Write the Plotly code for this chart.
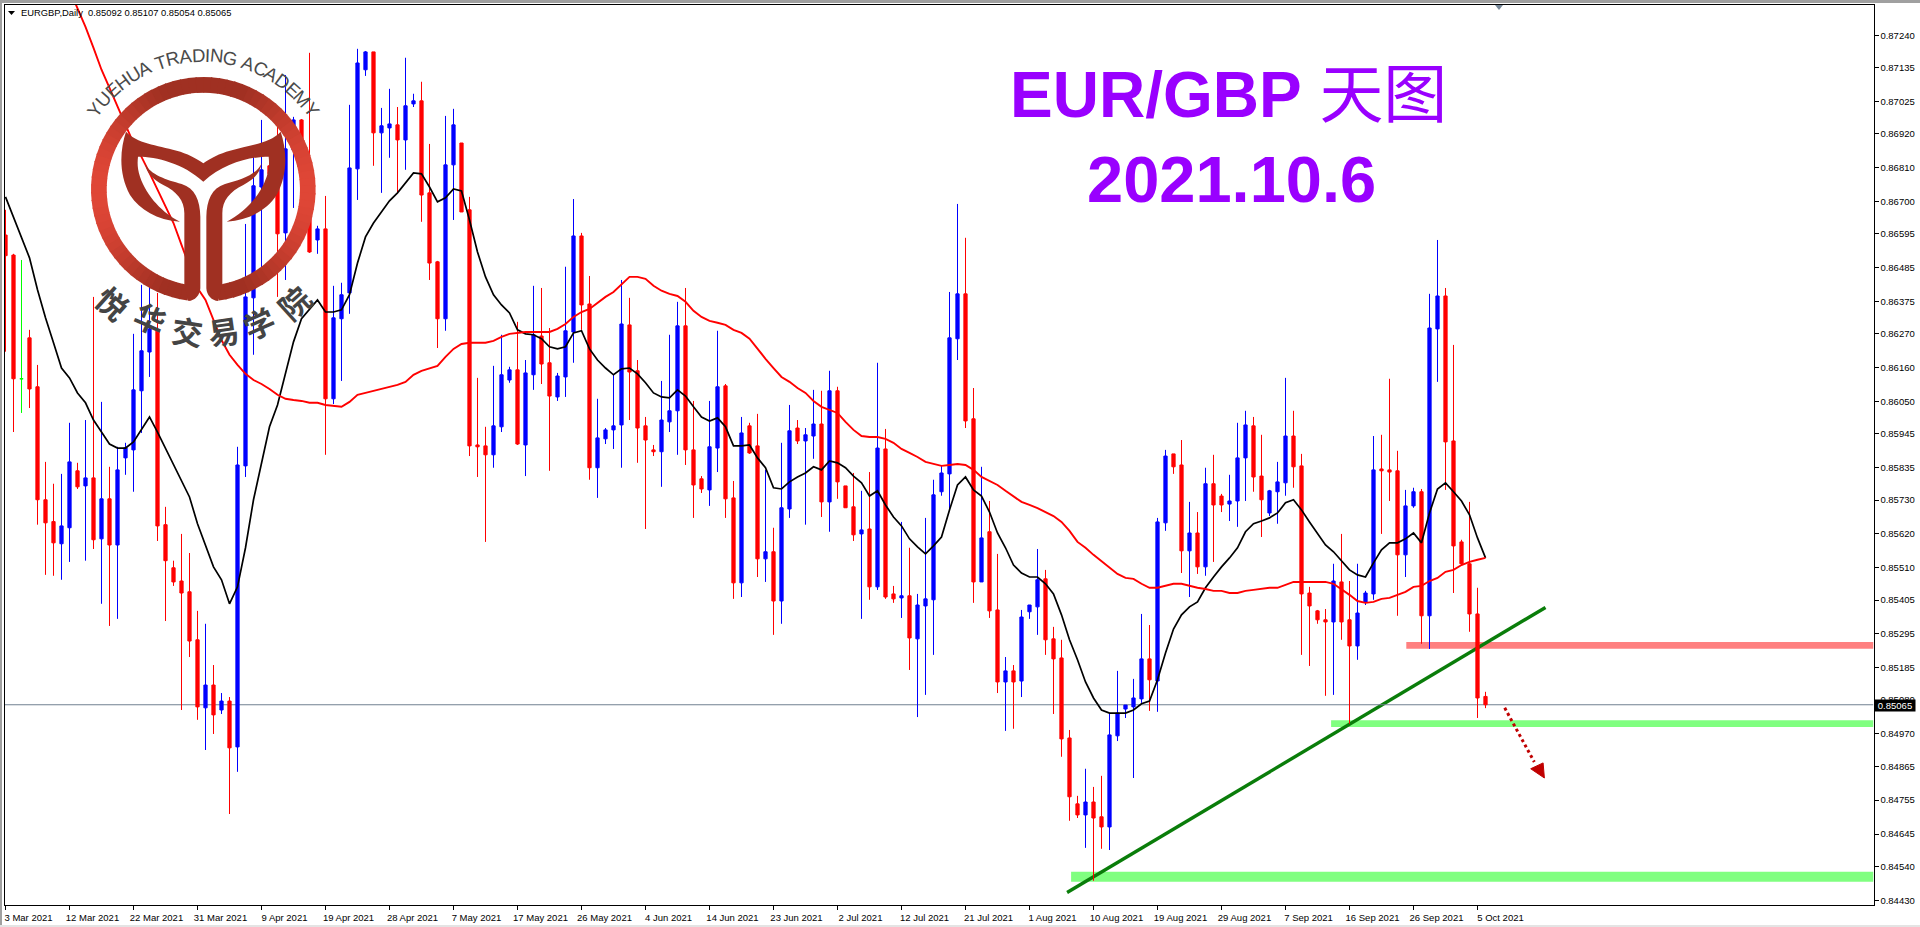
import re
import math
import plotly.graph_objects as go

W, H = 1920, 927

# ---------- price data, in points (1 point = 0.00001) ----------
open_pts = [
86591,86526,86124,86257,86098,85731,85660,85588,85640,85825,
85776,85802,85604,85734,85584,85867,85893,86085,86211,86283,
85650,85510,85467,85432,85276,85055,85129,85048,85077,84928,
85841,86387,86747,86816,86819,86598,86868,86965,86819,86575,
86611,86059,86319,86403,86806,87128,87186,86923,86939,86949,
86900,87017,87027,86728,86504,86319,86819,86890,86673,85909,
85906,85877,85968,86120,86153,85909,86137,86263,86176,86065,
86130,86276,86588,86367,85835,85929,85958,85974,86299,86150,
85971,85893,85887,85984,86020,86296,85893,85799,85763,85899,
86101,85737,85461,85971,85906,85539,85562,85402,85701,85964,
85922,85938,85977,85724,86085,85776,85708,85620,85636,85448,
85896,85425,85412,85419,85279,85386,85406,85757,85815,86254,
86400,85994,85464,85627,85373,85139,85175,85142,85367,85383,
85474,85279,85217,84957,84743,84707,84749,84701,84668,84964,
85051,85058,85084,85214,85142,85656,85880,85844,85565,85623,
85513,85783,85743,85717,85727,85867,85971,85808,85688,85757,
85786,85938,85841,85428,85370,85341,85334,85464,85341,85256,
85399,85425,85831,85828,85825,85552,85711,85757,85354,86286,
86393,85922,85594,85523,85360,85092]
close_pts = [
86524,86124,86124,86091,85731,85656,85591,85646,85854,85773,
85802,85601,85734,85584,85828,85900,86088,86215,86286,85646,
85533,85464,85428,85272,85058,85129,85032,85077,84925,85844,
86390,86751,86803,86790,86595,86871,86965,86900,86536,86611,
86059,86322,86397,86809,87150,87186,86923,86946,86952,86900,
87011,87027,86721,86500,86319,86819,86949,86666,85906,85903,
85877,85971,86137,86153,85912,86143,86267,86172,86068,86133,
86280,86588,86364,85835,85932,85958,85971,86302,86146,85964,
85925,85887,85990,86020,86296,85893,85779,85766,85903,86098,
85734,85461,85948,85883,85539,85562,85402,85705,85955,85922,
85942,85977,85724,86085,85789,85705,85617,85633,85448,85899,
85415,85409,85419,85282,85389,85409,85747,85818,86257,86400,
85987,85464,85607,85370,85139,85175,85139,85350,85389,85471,
85276,85214,84954,84766,84707,84749,84697,84668,84967,85038,
85064,85087,85214,85146,85659,85873,85838,85565,85623,85513,
85783,85714,85714,85727,85867,85974,85805,85731,85760,85789,
85938,85838,85425,85386,85341,85334,85467,85334,85256,85363,
85428,85828,85825,85821,85552,85711,85757,85354,86289,86393,
85919,85581,85523,85360,85087,85065]
high_pts = [
86673,86530,86510,86283,86169,85854,85783,85815,85981,85851,
85990,86390,86049,85838,85903,85916,86270,86429,86423,86403,
85708,85533,85620,85558,85370,85328,85194,85103,85090,85903,
86627,86851,86965,86868,86942,87111,86975,86968,87183,86621,
86718,86426,86436,87014,87196,87189,87186,87004,87066,87007,
87167,87050,87089,86887,86507,86978,87001,86890,86715,86127,
85968,86166,86267,86163,86309,86185,86426,86419,86289,86143,
86488,86708,86598,86458,86059,85964,86137,86445,86387,86185,
86000,85909,86117,86267,86374,86419,86052,85808,86052,86280,
86107,85792,86000,85981,86010,85828,85640,85916,86039,85990,
85964,86088,86085,86150,86098,85776,85818,85760,85821,86176,
85961,85451,85659,85575,85425,85672,85796,85841,86406,86692,
86582,86094,85838,85727,85555,85220,85194,85373,85389,85571,
85503,85318,85276,84983,84769,84857,84798,84834,85038,85175,
85064,85149,85360,85324,85672,85893,85880,85925,85724,85691,
85835,85877,85750,85812,85981,86020,86000,85942,85763,85854,
86127,86020,85880,85448,85373,85376,85523,85620,85467,85523,
85435,85938,85942,86124,85890,85763,85770,85766,86400,86575,
86419,86234,85601,85724,85445,85107]
low_pts = [
86212,85951,86013,86029,85650,85487,85484,85471,85529,85766,
85533,85571,85393,85321,85344,85812,85757,85948,86130,85597,
85337,85451,85048,85220,85016,84918,84970,85035,84710,84847,
85805,86202,86461,86705,86390,86445,86679,86868,86533,86530,
85877,86042,86117,86335,86705,87108,86816,86728,86842,86728,
86803,87007,86634,86445,86224,86280,86640,86666,85873,85805,
85594,85835,85951,86111,85909,85808,86088,86107,85825,86052,
86065,86176,86283,85796,85737,85912,85896,85835,85990,85851,
85636,85873,85773,85951,85877,85844,85672,85753,85711,85821,
85672,85409,85415,85880,85480,85464,85292,85328,85672,85912,
85650,85864,85675,85627,85734,85705,85597,85344,85406,85438,
85409,85396,85347,85178,85025,85097,85227,85744,85698,86185,
85964,85396,85464,85347,85103,84980,84987,85090,85344,85292,
85227,85035,84896,84688,84697,84600,84493,84597,84593,84947,
85022,84827,85071,85045,85042,85630,85815,85493,85415,85490,
85484,85529,85691,85662,85643,85727,85757,85610,85678,85653,
85744,85770,85227,85191,85328,85094,85097,85276,85003,85211,
85389,85406,85620,85727,85354,85480,85705,85263,85246,86114,
85763,85428,85519,85302,85022,85054]
ma_fast_pts = [
86715,86647,86582,86517,86413,86322,86241,86159,86127,86078,
86046,85990,85951,85912,85899,85899,85919,85961,86000,85951,
85899,85844,85795,85740,85653,85584,85513,85471,85393,85448,
85575,85731,85851,85968,86039,86143,86244,86319,86348,86380,
86341,86341,86348,86397,86500,86585,86630,86666,86702,86728,
86760,86793,86790,86747,86699,86712,86741,86734,86640,86536,
86455,86397,86364,86338,86283,86270,86267,86254,86228,86221,
86228,86273,86280,86221,86185,86159,86137,86156,86159,86140,
86111,86078,86065,86062,86088,86068,86033,86000,85987,85997,
85968,85906,85906,85909,85867,85835,85770,85766,85789,85805,
85818,85838,85828,85857,85851,85835,85808,85786,85743,85760,
85714,85675,85646,85604,85578,85555,85581,85610,85698,85779,
85805,85763,85743,85691,85623,85575,85519,85493,85480,85480,
85458,85425,85357,85276,85211,85139,85087,85048,85038,85038,
85038,85048,85068,85077,85146,85233,85311,85357,85383,85399,
85445,85480,85513,85542,85575,85627,85653,85662,85672,85688,
85721,85731,85698,85659,85623,85584,85562,85532,85503,85487,
85480,85526,85568,85591,85591,85604,85623,85591,85688,85766,
85786,85757,85727,85682,85607,85542]
ma_slow_pts = [
None,None,None,None,None,None,None,None,87388,87329,
87267,87199,87128,87069,87007,86949,86890,86845,86793,86738,
86682,86630,86559,86488,86419,86380,86315,86250,86202,86169,
86140,86120,86107,86091,86072,86059,86055,86052,86046,86046,
86039,86036,86033,86049,86072,86078,86085,86091,86098,86104,
86114,86137,86150,86159,86166,86195,86221,86237,86241,86241,
86241,86247,86260,86270,86273,86276,86276,86276,86276,86286,
86302,86325,86341,86351,86371,86390,86406,86429,86455,86455,
86449,86426,86410,86400,86393,86374,86345,86325,86312,86306,
86299,86283,86273,86254,86221,86189,86159,86130,86114,86094,
86078,86052,86033,86023,86013,85984,85958,85938,85935,85935,
85929,85916,85896,85883,85870,85854,85847,85841,85844,85847,
85844,85828,85805,85792,85779,85760,85743,85724,85714,85704,
85691,85678,85659,85630,85594,85575,85552,85532,85513,85490,
85477,85474,85458,85445,85445,85451,85458,85458,85451,85445,
85441,85435,85435,85428,85428,85435,85438,85441,85445,85445,
85454,85464,85464,85464,85464,85464,85458,85441,85422,85402,
85396,85399,85409,85412,85422,85432,85448,85451,85467,85477,
85497,85503,85519,85529,85536,85542]

x_tick_index = list(range(0, 186, 8))
x_tick_labels = ["3 Mar 2021","12 Mar 2021","22 Mar 2021","31 Mar 2021","9 Apr 2021","19 Apr 2021",
                 "28 Apr 2021","7 May 2021","17 May 2021","26 May 2021","4 Jun 2021","14 Jun 2021",
                 "23 Jun 2021","2 Jul 2021","12 Jul 2021","21 Jul 2021","1 Aug 2021","10 Aug 2021",
                 "19 Aug 2021","29 Aug 2021","7 Sep 2021","16 Sep 2021","26 Sep 2021","5 Oct 2021"]
y_tick_labels = ["0.87240","0.87135","0.87025","0.86920","0.86810","0.86700","0.86595","0.86485","0.86375",
                 "0.86270","0.86160","0.86050","0.85945","0.85835","0.85730","0.85620","0.85510","0.85405",
                 "0.85295","0.85185","0.85080","0.84970","0.84865","0.84755","0.84645","0.84540","0.84430"]
last_price = 0.85065
resistance_level = 0.85258
support_level_1 = 0.85004
support_level_2 = 0.84506
trend_x = [132.7, 192.5]
trend_y = [0.84455, 0.85381]
arrow_x = [187.4, 191.1]
arrow_y = [0.85055, 0.84879]
arrow_head_x = [190.65, 192.2, 192.36, 190.65]
arrow_head_y = [0.84857, 0.84876, 0.84827, 0.84857]

# ---------- layout geometry ----------
X_L, X_R, Y_T, Y_B = 4.5, 1873.5, 4.5, 904.5
def px(x): return x / W
def py(y): return 1 - y / H

idx = list(range(len(open_pts)))
is_doji = [o == c for o, c in zip(open_pts, close_pts)]
def pick(a, flag): return [v / 1e5 for v, d in zip(a, is_doji) if d == flag]
def pick_x(flag): return [i for i, d in zip(idx, is_doji) if d == flag]

BLUE, RED, GREEN = "#0000FF", "#FF0000", "#00FF00"
fig = go.Figure()
fig.add_trace(go.Candlestick(
    x=pick_x(False), open=pick(open_pts, False), high=pick(high_pts, False),
    low=pick(low_pts, False), close=pick(close_pts, False),
    increasing=dict(line=dict(color=BLUE, width=1), fillcolor=BLUE),
    decreasing=dict(line=dict(color=RED, width=1), fillcolor=RED),
    whiskerwidth=0, showlegend=False, hoverinfo="skip"))
fig.add_trace(go.Candlestick(
    x=pick_x(True), open=pick(open_pts, True), high=pick(high_pts, True),
    low=pick(low_pts, True), close=pick(close_pts, True),
    increasing=dict(line=dict(color=GREEN, width=1), fillcolor=GREEN),
    decreasing=dict(line=dict(color=GREEN, width=1), fillcolor=GREEN),
    whiskerwidth=0, showlegend=False, hoverinfo="skip"))
fig.add_trace(go.Scatter(x=idx, y=[v / 1e5 for v in ma_fast_pts], mode="lines",
                         line=dict(color="#000000", width=1.7), showlegend=False, hoverinfo="skip"))
fig.add_trace(go.Scatter(x=idx, y=[None if v is None else v / 1e5 for v in ma_slow_pts], mode="lines",
                         line=dict(color="#FF0000", width=1.9), showlegend=False, hoverinfo="skip"))
fig.add_trace(go.Scatter(x=arrow_x, y=arrow_y, mode="lines",
                         line=dict(color="#C00000", width=3, dash="dot"), showlegend=False, hoverinfo="skip"))
fig.add_trace(go.Scatter(x=arrow_head_x, y=arrow_head_y, mode="lines", fill="toself", fillcolor="#C00000",
                         line=dict(color="#C00000", width=1), showlegend=False, hoverinfo="skip"))

shapes = []
# levels, trend line, last price line: behind the candles
def band(x0, level, half, color):
    shapes.append(dict(type="rect", xref="x", yref="y", x0=x0, x1=233.5, y0=level - half, y1=level + half,
                       fillcolor=color, line=dict(width=0), layer="below"))
band(175.1, resistance_level, 0.00011, "#FF8080")
band(165.7, support_level_1, 0.00011, "#80FF80")
band(133.2, support_level_2, 0.00016, "#80FF80")
shapes.append(dict(type="line", xref="x", yref="y", x0=trend_x[0], x1=trend_x[1], y0=trend_y[0], y1=trend_y[1],
                   line=dict(color="#0A7D0A", width=3.4), layer="below"))
shapes.append(dict(type="line", xref="x", yref="y", x0=-0.125, x1=233.5, y0=last_price, y1=last_price,
                   line=dict(color="#708090", width=1.2), layer="below"))

# window frame
def frame(x0, y0, x1, y1, color):
    shapes.append(dict(type="rect", xref="paper", yref="paper", x0=px(x0), x1=px(x1), y0=py(y0), y1=py(y1),
                       fillcolor=color, line=dict(width=0), layer="below"))
frame(0, 0, W, 3, "#A0A0A0")
frame(0, 0, 2, H, "#A0A0A0")
frame(0, 925, W, H, "#E4E4E4")

# top marker
shapes.append(dict(type="path", xref="paper", yref="paper",
                   path=f"M {px(1495)} {py(5)} L {px(1503)} {py(5)} L {px(1499)} {py(10)} Z",
                   fillcolor="#778899", line=dict(width=0)))
# header marker
shapes.append(dict(type="path", xref="paper", yref="paper",
                   path=f"M {px(8)} {py(11)} L {px(15)} {py(11)} L {px(11.5)} {py(15)} Z",
                   fillcolor="#000000", line=dict(width=0)))

# ---------- logo, traced in 3x crop coordinates ----------
def zpath(s):
    def rep(m):
        return f"{float(m.group(1)) / 3 / W:.5f} {1 - float(m.group(2)) / 3 / H:.5f}"
    return re.sub(r"(-?\d+\.?\d*)\s+(-?\d+\.?\d*)", rep, s)

def lerp_hex(t):
    a, b = (0xA0, 0x30, 0x22), (0xDF, 0x46, 0x36)
    return "#%02X%02X%02X" % tuple(round(p + (q - p) * t) for p, q in zip(a, b))

CX, CY, R_IN, R_OUT = 610, 568, 290, 337
STEP = 4
for deg in range(-172, 172, STEP):
    a0, a1 = math.radians(deg), math.radians(min(deg + STEP + 0.6, 172))
    amid = (a0 + a1) / 2
    t = max(0.0, (abs(math.sin(amid)) - 0.35) / 0.65) ** 1.3
    pts = [(CX + R_OUT * math.sin(a0), CY - R_OUT * math.cos(a0)),
           (CX + R_OUT * math.sin(a1), CY - R_OUT * math.cos(a1)),
           (CX + R_IN * math.sin(a1), CY - R_IN * math.cos(a1)),
           (CX + R_IN * math.sin(a0), CY - R_IN * math.cos(a0))]
    d = "M " + " L ".join(f"{x:.1f} {y:.1f}" for x, y in pts) + " Z"
    shapes.append(dict(type="path", xref="paper", yref="paper", path=zpath(d),
                       fillcolor=lerp_hex(t), line=dict(width=0)))

TAIL = ("M 378 395 C 410 430 470 435 530 452 C 560 460 590 475 610 490 C 630 475 660 460 690 452 "
        "C 750 435 810 430 842 395 C 860 450 865 520 830 585 C 800 630 750 660 680 665 "
        "C 730 640 780 590 800 530 C 808 505 808 490 806 470 C 750 470 670 490 610 545 "
        "C 550 490 470 470 414 470 C 412 490 412 505 420 530 C 440 590 490 640 540 665 "
        "C 470 660 420 630 390 585 C 355 520 360 450 378 395 Z")
STEM_L = ("M 435 490 C 450 525 500 540 545 552 C 585 565 600 600 601 650 L 601 865 "
          "C 600 885 585 903 565 903 L 553 852 L 553 640 C 553 600 530 575 490 555 C 460 540 440 520 435 490 Z")
STEM_R = ("M 785 490 C 770 525 720 540 675 552 C 635 565 620 600 619 650 L 619 865 "
          "C 620 885 635 903 655 903 L 667 852 L 667 640 C 667 600 690 575 730 555 C 760 540 780 520 785 490 Z")
for d in (TAIL, STEM_L, STEM_R):
    shapes.append(dict(type="path", xref="paper", yref="paper", path=zpath(d),
                       fillcolor="#A03022", line=dict(width=0)))

annotations = []
def label(x, y, text, size, color="#000000", family="Liberation Sans", anchor="center", angle=0, **kw):
    annotations.append(dict(x=px(x), y=py(y), xref="paper", yref="paper", text=text, showarrow=False,
                            xanchor=anchor, yanchor="middle", textangle=angle,
                            font=dict(family=family, size=size, color=color), borderpad=0, **kw))

# curved academy name, glyph by glyph
ACADEMY = "YUEHUA TRADING ACADEMY"
ADV = dict(Y=.667, U=.722, E=.667, H=.722, A=.667, T=.611, R=.722, D=.722, I=.278, N=.722, G=.778, C=.722, M=.833)
ADV[" "] = .278
LOGO_CX, LOGO_CY = 203.3, 189.3
R_TEXT, S_TEXT = 134, 18.6
total = sum(ADV[c] for c in ACADEMY) * S_TEXT
run = 0.0
for c in ACADEMY:
    w = ADV[c] * S_TEXT
    ang = (run + w / 2 - total / 2) / R_TEXT
    run += w
    if c != " ":
        label(LOGO_CX + R_TEXT * math.sin(ang), LOGO_CY - R_TEXT * math.cos(ang), c, S_TEXT,
              color="#4A4A4A", angle=math.degrees(ang))

for ch, x, y, a in zip("悦华交易学院",
                       [113, 150, 187, 223, 258, 293],
                       [302, 318, 330, 330, 322, 302],
                       [42, 24, 8, -8, -24, -42]):
    label(x, y, f"<b>{ch}</b>", 31, color="#444444", family="Noto Sans CJK SC", angle=a)

# title block
label(1228, 95, "<b>EUR/GBP</b> 天图", 64, color="#9900FF", family="Liberation Sans, Noto Sans CJK SC")
label(1231, 179, "<b>2021.10.6</b>", 65, color="#9900FF", family="Liberation Sans")
# header text and last-price tag
label(20, 12.5, "EURGBP,Daily&nbsp;&nbsp;0.85092 0.85107 0.85054 0.85065", 9.4, anchor="left")
label(1895, 705.5, "0.85065", 9.5, color="#FFFFFF", bgcolor="#000000", width=40, height=11)

fig.update_layout(
    width=W, height=H, autosize=False, showlegend=False,
    margin=dict(l=0, r=0, t=0, b=0, pad=0),
    paper_bgcolor="#FFFFFF", plot_bgcolor="#FFFFFF",
    boxgap=0.42, boxmode="overlay",
    shapes=shapes, annotations=annotations,
    xaxis=dict(domain=[px(X_L), px(X_R)], range=[-0.125, 233.5], rangeslider=dict(visible=False),
               tickmode="array", tickvals=x_tick_index, ticktext=x_tick_labels, tickangle=0,
               ticks="outside", ticklen=4, tickcolor="#000000", tickwidth=1,
               tickfont=dict(family="Liberation Sans", size=9.5, color="#000000"),
               ticklabelshift=23, ticklabeloverflow="allow",
               showgrid=False, zeroline=False, showline=True, linecolor="#000000", linewidth=1, mirror=True),
    yaxis=dict(domain=[py(Y_B), py(Y_T)], range=[0.84416, 0.87340], side="right",
               tickmode="array", tickvals=[float(t) for t in y_tick_labels], ticktext=y_tick_labels,
               ticks="outside", ticklen=4, tickcolor="#000000", tickwidth=1,
               tickfont=dict(family="Liberation Sans", size=9.5, color="#000000"),
               showgrid=False, zeroline=False, showline=True, linecolor="#000000", linewidth=1, mirror=True),
)

fig.write_html("out.html", config=dict(displayModeBar=False),
               post_script="document.body.style.margin='0';document.body.style.overflow='hidden';")
